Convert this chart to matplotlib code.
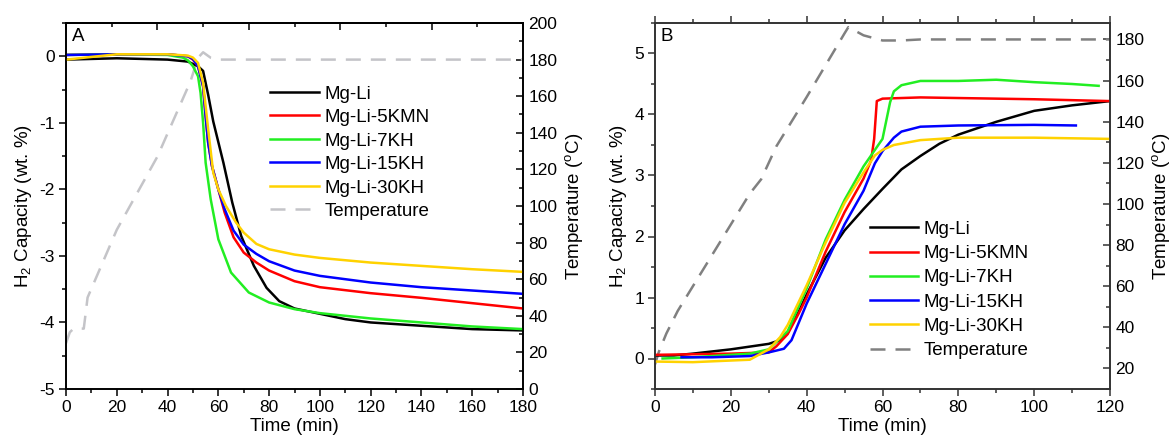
import numpy as np
import matplotlib
matplotlib.use("Agg")
import matplotlib.pyplot as plt
from matplotlib.ticker import MultipleLocator

plt.rcParams['font.family'] = ['Liberation Sans', 'DejaVu Sans']
plt.rcParams['mathtext.default'] = 'regular'
plt.rcParams['axes.unicode_minus'] = False

labels = ["Mg-Li", "Mg-Li-5KMN", "Mg-Li-7KH", "Mg-Li-15KH", "Mg-Li-30KH"]
colors = ["#000000", "#ff0000", "#22ee22", "#0000ff", "#ffd200"]

# ---- panel A: dehydrogenation ----
a_t = {
    "Mg-Li": [0, 20, 40, 48, 52, 54, 56, 58, 62, 65.5, 69, 74, 79, 84, 90, 100, 110, 120, 140, 160, 180],
    "Mg-Li-5KMN": [0, 20, 40, 48, 50, 52, 54, 55, 56, 57.5, 60, 62.5, 66, 70, 75, 80, 90, 100, 120, 140, 160, 180],
    "Mg-Li-7KH": [0, 20, 40, 46, 48, 50, 52, 53, 54, 55, 57, 60, 65, 72, 80, 90, 100, 120, 140, 160, 180],
    "Mg-Li-15KH": [0, 20, 40, 48, 50, 52, 54, 55, 56, 57.5, 60, 62.5, 66, 70, 75, 80, 90, 100, 120, 140, 160, 180],
    "Mg-Li-30KH": [0, 20, 40, 48, 50, 52, 54, 56, 58, 60, 63, 67, 70, 75, 80, 90, 100, 120, 140, 160, 180],
}
a_cap = {
    "Mg-Li": [-0.05, -0.03, -0.05, -0.08, -0.15, -0.22, -0.58, -0.98, -1.6, -2.2, -2.7, -3.15, -3.48, -3.68, -3.79, -3.87, -3.95, -4.0, -4.05, -4.1, -4.12],
    "Mg-Li-5KMN": [0.02, 0.03, 0.03, 0.0, -0.05, -0.15, -0.45, -0.9, -1.3, -1.65, -2.0, -2.35, -2.72, -2.95, -3.1, -3.22, -3.38, -3.47, -3.56, -3.63, -3.71, -3.79],
    "Mg-Li-7KH": [0.02, 0.03, 0.02, -0.02, -0.06, -0.15, -0.3, -0.55, -1.0, -1.6, -2.15, -2.75, -3.25, -3.55, -3.7, -3.8, -3.86, -3.94, -4.0, -4.06, -4.1],
    "Mg-Li-15KH": [0.02, 0.03, 0.03, 0.0, -0.04, -0.15, -0.45, -0.9, -1.3, -1.65, -2.0, -2.3, -2.62, -2.83, -2.97, -3.08, -3.22, -3.3, -3.4, -3.47, -3.52, -3.57],
    "Mg-Li-30KH": [-0.05, 0.03, 0.03, 0.01, -0.02, -0.1, -0.4, -1.1, -1.75, -2.0, -2.25, -2.5, -2.65, -2.82, -2.9, -2.98, -3.03, -3.1, -3.15, -3.2, -3.24],
}
a_temp_t = [0, 1.5, 3, 7, 8.5, 20, 36, 49, 52, 54, 57, 60, 180]
a_temp = [25, 31, 33, 33, 50, 87, 127, 168, 181, 184, 181, 180, 180]

# ---- panel B: hydrogenation ----
b_t = {
    "Mg-Li": [0, 5, 10, 20, 30, 33, 35, 38, 40, 45, 50, 55, 60, 65, 70, 75, 80, 90, 100, 110, 120],
    "Mg-Li-5KMN": [0, 10, 20, 30, 32, 35, 38, 40, 45, 50, 55, 57, 57.8, 58.5, 60, 70, 80, 100, 120],
    "Mg-Li-7KH": [2, 10, 25, 30, 35, 40, 45, 50, 55, 60, 62, 63, 65, 70, 80, 90, 100, 110, 117],
    "Mg-Li-15KH": [7, 15, 25, 30, 34, 36, 38, 40, 45, 50, 55, 58, 60, 63, 65, 70, 80, 100, 111],
    "Mg-Li-30KH": [0, 10, 25, 30, 33, 35, 40, 45, 50, 55, 58, 60, 63, 70, 80, 90, 100, 120],
}
b_cap = {
    "Mg-Li": [0.05, 0.05, 0.08, 0.15, 0.24, 0.3, 0.42, 0.78, 1.05, 1.65, 2.1, 2.45, 2.78, 3.1, 3.32, 3.52, 3.67, 3.88, 4.06, 4.15, 4.22],
    "Mg-Li-5KMN": [0.06, 0.07, 0.08, 0.1, 0.2, 0.4, 0.75, 1.0, 1.75, 2.4, 2.95, 3.25, 3.6, 4.22, 4.26, 4.28, 4.27, 4.25, 4.22],
    "Mg-Li-7KH": [0.0, 0.02, 0.08, 0.15, 0.45, 1.15, 1.95, 2.6, 3.15, 3.6, 4.2, 4.38, 4.48, 4.55, 4.55, 4.57, 4.53, 4.5, 4.47],
    "Mg-Li-15KH": [0.02, 0.02, 0.04, 0.1, 0.16, 0.3, 0.6, 0.9, 1.55, 2.2, 2.75, 3.2, 3.4, 3.62, 3.72, 3.8, 3.82, 3.83, 3.82],
    "Mg-Li-30KH": [-0.05, -0.06, -0.02, 0.15, 0.35, 0.55, 1.2, 1.9, 2.55, 3.05, 3.33, 3.42, 3.5, 3.58, 3.62, 3.62, 3.62, 3.6],
}
b_temp_t = [0, 1, 3, 6, 13, 25, 28, 32, 40, 50, 51, 55, 60, 65, 70, 120]
b_temp = [22, 28, 37, 48, 69, 105, 112, 128, 152, 183, 186, 182, 179.5, 179.5, 180, 180]

fig = plt.figure(figsize=(11.72, 4.46), dpi=100)
axA = fig.add_axes([66/1172, 1-389/446, 457/1172, 366/446])
axB = fig.add_axes([655/1172, 1-389/446, 455/1172, 366/446])

FS_TICK = 12.5
FS_LAB = 13.5


def style(ax, twin, spine_color):
    for s in ax.spines.values():
        s.set_color(spine_color)
        s.set_linewidth(1.2)
    ax.tick_params(axis='both', which='major', direction='out', length=5, width=1.1,
                   labelsize=FS_TICK, color=spine_color, pad=3)
    ax.tick_params(axis='both', which='minor', direction='out', length=3, width=1.1,
                   color=spine_color)
    twin.tick_params(axis='y', which='major', direction='in', length=5, width=1.1,
                     labelsize=FS_TICK, color=spine_color, pad=4)
    twin.tick_params(axis='y', which='minor', direction='in', length=3, width=1.1,
                     color=spine_color)
    for s in twin.spines.values():
        s.set_color(spine_color)
        s.set_linewidth(1.2)


# panel A
tA = axA.twinx()
handles = []
for lab, c in zip(labels, colors):
    h, = axA.plot(a_t[lab], a_cap[lab], color=c, lw=1.8, label=lab)
    handles.append(h)
hT, = tA.plot(a_temp_t, a_temp, color='#c4c4c8', lw=1.8, ls=(0, (6, 4)), label='Temperature')
handles.append(hT)
axA.set_xlim(0, 180)
axA.set_ylim(-5, 0.5)
tA.set_ylim(0, 200)
axA.xaxis.set_major_locator(MultipleLocator(20))
axA.xaxis.set_minor_locator(MultipleLocator(10))
axA.yaxis.set_major_locator(MultipleLocator(1))
axA.yaxis.set_minor_locator(MultipleLocator(0.5))
tA.yaxis.set_major_locator(MultipleLocator(20))
tA.yaxis.set_minor_locator(MultipleLocator(10))
style(axA, tA, 'black')
# top axis of panel A carries its own, unlabelled inward ticks
topA = axA.secondary_xaxis('top')
topA.xaxis.set_major_locator(MultipleLocator(36))
topA.xaxis.set_minor_locator(MultipleLocator(18))
topA.tick_params(which='major', direction='in', length=5, width=1.1, labeltop=False)
topA.tick_params(which='minor', direction='in', length=3, width=1.1)
topA.spines['top'].set_linewidth(1.2)
axA.set_xlabel('Time (min)', fontsize=FS_LAB, labelpad=2)
axA.set_ylabel('H$_2$ Capacity (wt. %)', fontsize=FS_LAB, labelpad=4)
tA.set_ylabel('Temperature ($^o$C)', fontsize=FS_LAB, labelpad=4)
axA.text(0.012, 0.985, 'A', transform=axA.transAxes, fontsize=FS_LAB, va='top')
axA.legend(handles=handles, loc='upper left', bbox_to_anchor=(0.43, 0.85), frameon=False,
           fontsize=FS_LAB, handlelength=2.6, labelspacing=0.34, handletextpad=0.3,
           borderaxespad=0)
axA.set_zorder(tA.get_zorder() + 1)
axA.patch.set_visible(False)

# panel B
tB = axB.twinx()
handles = []
for lab, c in zip(labels, colors):
    h, = axB.plot(b_t[lab], b_cap[lab], color=c, lw=1.8, label=lab)
    handles.append(h)
hT, = tB.plot(b_temp_t, b_temp, color='#808080', lw=1.8, ls=(0, (6, 4)), label='Temperature')
handles.append(hT)
axB.set_xlim(0, 120)
axB.set_ylim(-0.5, 5.5)
tB.set_ylim(10, 188)
axB.xaxis.set_major_locator(MultipleLocator(20))
axB.xaxis.set_minor_locator(MultipleLocator(10))
axB.yaxis.set_major_locator(MultipleLocator(1))
axB.yaxis.set_minor_locator(MultipleLocator(0.5))
tB.yaxis.set_major_locator(MultipleLocator(20))
tB.yaxis.set_minor_locator(MultipleLocator(10))
style(axB, tB, '#333333')
axB.tick_params(axis='x', which='both', top=True)
axB.set_xlabel('Time (min)', fontsize=FS_LAB, labelpad=2)
axB.set_ylabel('H$_2$ Capacity (wt. %)', fontsize=FS_LAB, labelpad=4)
tB.set_ylabel('Temperature ($^o$C)', fontsize=FS_LAB, labelpad=4)
axB.text(0.012, 0.985, 'B', transform=axB.transAxes, fontsize=FS_LAB, va='top')
axB.legend(handles=handles, loc='upper left', bbox_to_anchor=(0.455, 0.48), frameon=False,
           fontsize=FS_LAB, handlelength=2.6, labelspacing=0.38, handletextpad=0.3,
           borderaxespad=0)
axB.set_zorder(tB.get_zorder() + 1)
axB.patch.set_visible(False)

fig.savefig("out.png", dpi=100)
